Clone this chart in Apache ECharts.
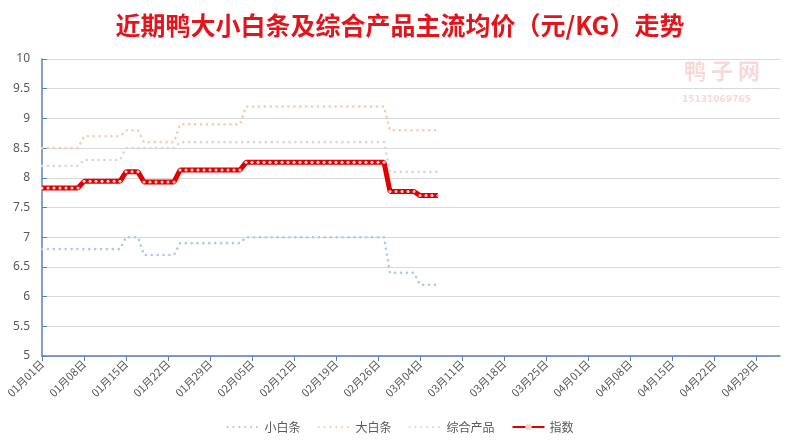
<!DOCTYPE html>
<html>
<head>
<meta charset="utf-8">
<script src="https://cdn.jsdelivr.net/npm/echarts@6/dist/echarts.min.js"></script>
<style>
    html, body { margin: 0; padding: 0; background: #fff; }
    #chart { width: 800px; height: 443px; }
</style>
</head>
<body>
<div id="chart"></div>
<script>
// 日期轴：2024-01-01 起共 124 天，每 7 天一个刻度标签
const startDate = new Date(2024, 0, 1);
const dayCount = 124;
const categories = [];
for (let i = 0; i < dayCount; i++) {
    const d = new Date(startDate.getTime() + i * 86400000);
    const mm = String(d.getMonth() + 1).padStart(2, '0');
    const dd = String(d.getDate()).padStart(2, '0');
    categories.push(mm + '月' + dd + '日');
}

// 各系列日均价（元/KG），01/01 ~ 03/07
const xiaoBaiTiao = [
    6.8, 6.8, 6.8, 6.8, 6.8, 6.8, 6.8, 6.8, 6.8, 6.8, 6.8, 6.8, 6.8, 6.8,
    7.0, 7.0, 7.0,
    6.7, 6.7, 6.7, 6.7, 6.7, 6.7,
    6.9, 6.9, 6.9, 6.9, 6.9, 6.9, 6.9, 6.9, 6.9, 6.9, 6.9,
    7.0, 7.0, 7.0, 7.0, 7.0, 7.0, 7.0, 7.0, 7.0, 7.0, 7.0, 7.0,
    7.0, 7.0, 7.0, 7.0, 7.0, 7.0, 7.0, 7.0, 7.0, 7.0, 7.0, 7.0,
    6.4, 6.4, 6.4, 6.4, 6.4,
    6.2, 6.2, 6.2, 6.2
];
const daBaiTiao = [
    8.5, 8.5, 8.5, 8.5, 8.5, 8.5, 8.5,
    8.7, 8.7, 8.7, 8.7, 8.7, 8.7, 8.7,
    8.8, 8.8, 8.8,
    8.6, 8.6, 8.6, 8.6, 8.6, 8.6,
    8.9, 8.9, 8.9, 8.9, 8.9, 8.9, 8.9, 8.9, 8.9, 8.9, 8.9,
    9.2, 9.2, 9.2, 9.2, 9.2, 9.2, 9.2, 9.2, 9.2, 9.2, 9.2, 9.2,
    9.2, 9.2, 9.2, 9.2, 9.2, 9.2, 9.2, 9.2, 9.2, 9.2, 9.2, 9.2,
    8.8, 8.8, 8.8, 8.8, 8.8, 8.8, 8.8, 8.8, 8.8
];
const zongHe = [
    8.2, 8.2, 8.2, 8.2, 8.2, 8.2, 8.2,
    8.3, 8.3, 8.3, 8.3, 8.3, 8.3, 8.3,
    8.5, 8.5, 8.5, 8.5, 8.5, 8.5, 8.5, 8.5, 8.5,
    8.6, 8.6, 8.6, 8.6, 8.6, 8.6, 8.6, 8.6, 8.6, 8.6, 8.6,
    8.6, 8.6, 8.6, 8.6, 8.6, 8.6, 8.6, 8.6, 8.6, 8.6, 8.6, 8.6,
    8.6, 8.6, 8.6, 8.6, 8.6, 8.6, 8.6, 8.6, 8.6, 8.6, 8.6, 8.6,
    8.1, 8.1, 8.1, 8.1, 8.1, 8.1, 8.1, 8.1, 8.1
];
const zhiShu = [
    7.83, 7.83, 7.83, 7.83, 7.83, 7.83, 7.83,
    7.94, 7.94, 7.94, 7.94, 7.94, 7.94, 7.94,
    8.1, 8.1, 8.1,
    7.93, 7.93, 7.93, 7.93, 7.93, 7.93,
    8.13, 8.13, 8.13, 8.13, 8.13, 8.13, 8.13, 8.13, 8.13, 8.13, 8.13,
    8.26, 8.26, 8.26, 8.26, 8.26, 8.26, 8.26, 8.26, 8.26, 8.26, 8.26, 8.26,
    8.26, 8.26, 8.26, 8.26, 8.26, 8.26, 8.26, 8.26, 8.26, 8.26, 8.26, 8.26,
    7.77, 7.77, 7.77, 7.77, 7.77,
    7.7, 7.7, 7.7, 7.7
];

const axisBlue = '#5b80b8';
const textGray = '#595959';

const chart = echarts.init(document.getElementById('chart'));

// 虚点线系列的公共样式（图例里不画圆点）
function dotted(name, data, color) {
    return {
        name: name,
        type: 'line',
        data: data,
        symbol: 'none',
        lineStyle: { color: color, width: 2.6, type: [0.1, 5.8], cap: 'round' },
        itemStyle: { color: 'rgba(0,0,0,0)' },
        silent: true
    };
}

chart.setOption({
    animation: false,
    title: {
        text: '近期鸭大小白条及综合产品主流均价（元/KG）走势',
        left: 'center',
        top: 8,
        textStyle: {
            color: '#e3141b',
            fontSize: 25,
            fontWeight: 'bold',
            fontFamily: 'Noto Sans CJK SC'
        }
    },
    graphic: [
        {
            type: 'text', left: 684, top: 60,
            style: { text: '鸭 子 网', fill: 'rgba(230,150,150,0.35)', font: 'bold 22px "Noto Sans CJK SC"' }
        },
        {
            type: 'text', left: 682, top: 95,
            style: { text: '15131069765', fill: 'rgba(230,150,150,0.35)', font: 'bold 9px "DejaVu Sans"' }
        }
    ],
    legend: {
        bottom: 5,
        left: 'center',
        itemWidth: 32,
        itemHeight: 8,
        itemGap: 17,
        textStyle: { color: textGray, fontSize: 12, fontFamily: 'Noto Sans CJK SC' },
        data: ['小白条', '大白条', '综合产品', '指数']
    },
    grid: { left: 42, right: 20, top: 59, bottom: 87 },
    xAxis: {
        type: 'category',
        data: categories,
        boundaryGap: false,
        axisLine: { lineStyle: { color: axisBlue, width: 1.5 } },
        axisTick: { interval: 6, length: 5, lineStyle: { color: axisBlue } },
        axisLabel: {
            interval: 6,
            rotate: 45,
            color: textGray,
            fontSize: 11,
            fontFamily: 'Noto Sans CJK SC',
            margin: 6
        },
        splitLine: { show: false }
    },
    yAxis: {
        type: 'value',
        min: 5,
        max: 10,
        interval: 0.5,
        axisLine: { show: true, lineStyle: { color: axisBlue, width: 1.5 } },
        axisTick: { show: true, inside: true, length: 5, lineStyle: { color: axisBlue } },
        axisLabel: { color: textGray, fontSize: 12, fontFamily: 'Noto Sans', margin: 12 },
        splitLine: { lineStyle: { color: '#d9d9d9', width: 1 } }
    },
    series: [
        dotted('小白条', xiaoBaiTiao, '#b4c7e7'),
        dotted('大白条', daBaiTiao, '#f8cbad'),
        dotted('综合产品', zongHe, '#d9d9d9'),
        {
            name: '指数',
            type: 'line',
            data: zhiShu,
            symbol: 'circle',
            symbolSize: 3,
            showSymbol: true,
            z: 5,
            lineStyle: { color: '#e00000', width: 5 },
            itemStyle: { color: '#ffd6d6', borderWidth: 0 },
            silent: true
        }
    ]
});
</script>
</body>
</html>
